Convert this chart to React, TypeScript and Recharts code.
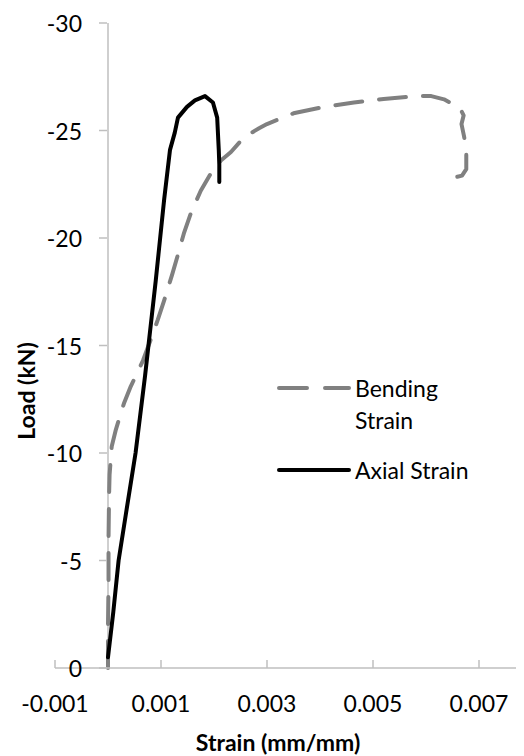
import { Label, Legend, Line, LineChart, ReferenceLine, XAxis, YAxis } from "recharts";

const X_TICKS = [-0.001, 0.001, 0.003, 0.005, 0.007];
const Y_TICKS = [0, -5, -10, -15, -20, -25, -30];

const BENDING_STRAIN = [
  0, 0, 0.00001, 0.00001, 0.00002, 0.00003, 0.00007, 0.00015, 0.0003, 0.00043, 0.00066, 0.00081,
  0.00094, 0.00106, 0.00121, 0.00134, 0.00143, 0.00157, 0.00175, 0.00194, 0.00213, 0.00232,
  0.00257, 0.00285, 0.003, 0.0035, 0.00408, 0.00464, 0.0052, 0.00585, 0.0061, 0.00634, 0.00664,
  0.00671, 0.00667, 0.00672, 0.00676, 0.00676, 0.00668, 0.00659,
];
const BENDING_LOAD = [
  0, -2, -4, -6, -8, -9, -10.3, -11.1, -12.3, -13.1, -14.3, -15.3, -16.2, -17.1, -18.3, -19.4,
  -20.2, -21.2, -22.2, -23.0, -23.6, -24.0, -24.7, -25.1, -25.3, -25.8, -26.1, -26.3, -26.47,
  -26.6, -26.6, -26.45, -26.05, -25.7, -25.3, -24.7, -24.1, -23.2, -22.9, -22.85,
];

const AXIAL_STRAIN = [
  0, 0.0001, 0.0002, 0.00034, 0.00052, 0.0007, 0.0009, 0.00106, 0.00117, 0.00126, 0.00132,
  0.00149, 0.00164, 0.00183, 0.00198, 0.00206, 0.00209, 0.0021, 0.0021,
];
const AXIAL_LOAD = [
  -0.5, -2.6, -5.0, -7.2, -10.0, -13.6, -18.0, -21.8, -24.1, -24.9, -25.6, -26.1, -26.4, -26.6,
  -26.3, -25.6, -24.1, -23.4, -22.6,
];

const bendingData = BENDING_STRAIN.map((x, i) => ({ x, y: BENDING_LOAD[i] }));
const axialData = AXIAL_STRAIN.map((x, i) => ({ x, y: AXIAL_LOAD[i] }));

const AXIS_COLOR = "#bfbfbf";
const FONT = "Lato, 'Open Sans', sans-serif";
const FONT_SIZE = 23;

function XTick({ x, y, payload }: any) {
  return (
    <g>
      <line x1={x} x2={x} y1={y} y2={y - 8} stroke={AXIS_COLOR} strokeWidth={1.5} />
      <text
        x={x}
        y={y + 35}
        textAnchor="middle"
        dominantBaseline="central"
        fontFamily={FONT}
        fontSize={FONT_SIZE}
        fill="#000"
      >
        {String(payload.value)}
      </text>
    </g>
  );
}

function YTick({ x, y, payload }: any) {
  return (
    <g>
      <line x1={x + 44} x2={x + 52} y1={y} y2={y} stroke={AXIS_COLOR} strokeWidth={1.5} />
      <text
        x={x + 27}
        y={y}
        textAnchor="end"
        dominantBaseline="central"
        fontFamily={FONT}
        fontSize={FONT_SIZE}
        fill="#000"
      >
        {String(payload.value)}
      </text>
    </g>
  );
}

function LegendBox() {
  const textProps = { fontFamily: FONT, fontSize: FONT_SIZE, fill: "#000", dominantBaseline: "central" as const };
  return (
    <svg width={240} height={130}>
      <line x1={6} x2={76} y1={20} y2={20} stroke="#808080" strokeWidth={4} strokeDasharray="28 18" strokeLinecap="round" />
      <text x={82} y={20} {...textProps}>Bending</text>
      <text x={82} y={52} {...textProps}>Strain</text>
      <line x1={6} x2={76} y1={102} y2={102} stroke="#000" strokeWidth={4} strokeLinecap="round" />
      <text x={82} y={102} {...textProps}>Axial Strain</text>
    </svg>
  );
}

export default function App() {
  return (
    <div style={{ width: 516, height: 748, overflow: "hidden" }}>
      <LineChart width={524} height={748} margin={{ top: 15, right: 0, bottom: 8, left: 0 }}>
        <XAxis
          type="number"
          dataKey="x"
          domain={[-0.001, 0.008]}
          ticks={X_TICKS}
          allowDataOverflow
          height={80}
          tickSize={0}
          tickMargin={0}
          tickLine={false}
          axisLine={{ stroke: AXIS_COLOR, strokeWidth: 1.5 }}
          tick={<XTick />}
        >
          <Label
            content={() => (
              <text
                x={270}
                y={734}
                textAnchor="middle"
                dominantBaseline="central"
                fontFamily={FONT}
                fontSize={FONT_SIZE}
                fontWeight="bold"
                fill="#000"
              >
                Strain (mm/mm)
              </text>
            )}
          />
        </XAxis>
        <YAxis
          type="number"
          dataKey="y"
          domain={[-30, 0]}
          reversed
          ticks={Y_TICKS}
          width={47}
          tickSize={0}
          tickMargin={0}
          tickLine={false}
          axisLine={false}
          tick={<YTick />}
        >
          <Label
            content={() => (
              <text
                x={18}
                y={383}
                transform="rotate(-90 18 383)"
                textAnchor="middle"
                dominantBaseline="central"
                fontFamily={FONT}
                fontSize={FONT_SIZE}
                fontWeight="bold"
                fill="#000"
              >
                Load (kN)
              </text>
            )}
          />
        </YAxis>
        <ReferenceLine x={0} stroke={AXIS_COLOR} strokeWidth={1.5} ifOverflow="extendDomain" />
        <Legend
          layout="horizontal"
          verticalAlign="middle"
          align="center"
          content={() => <LegendBox />}
          wrapperStyle={{ position: "absolute", left: 265, top: 360, width: 240, height: 130 }}
        />
        <Line
          data={bendingData}
          dataKey="y"
          name="Bending Strain"
          type="linear"
          stroke="#808080"
          strokeWidth={4}
          strokeDasharray="27 17"
          strokeLinecap="round"
          strokeLinejoin="round"
          dot={false}
          isAnimationActive={false}
        />
        <Line
          data={axialData}
          dataKey="y"
          name="Axial Strain"
          type="linear"
          stroke="#000"
          strokeWidth={4}
          strokeLinecap="round"
          strokeLinejoin="round"
          dot={false}
          isAnimationActive={false}
        />
      </LineChart>
    </div>
  );
}
